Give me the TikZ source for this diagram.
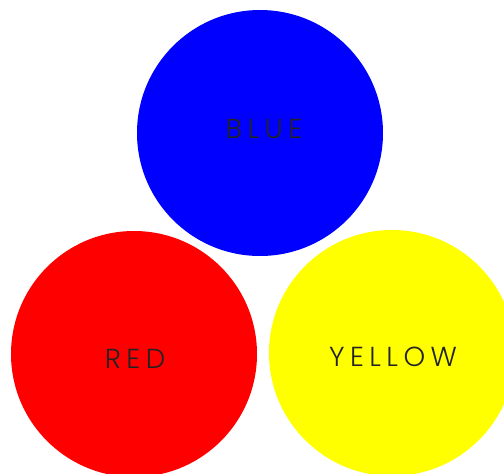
\documentclass[tikz,border=0pt]{standalone}
\usepackage{fontspec}
\newfontfamily\labelfont[LetterSpace=20]{Poppins Light}
\definecolor{cblue}{RGB}{0,0,255}
\definecolor{cred}{RGB}{255,0,0}
\definecolor{cyellow}{RGB}{255,255,0}
\definecolor{ctext}{RGB}{35,35,35}
\begin{document}
\begin{tikzpicture}[x=1pt,y=-1pt,
  disc/.style={circle,minimum size=246pt,inner sep=0pt},
  lab/.style={text=ctext,font=\labelfont\fontsize{27.5}{27.5}\selectfont}]
\useasboundingbox (0,0) rectangle (504,474);
\clip (0,0) rectangle (504,474);
\node[disc,fill=cblue] (blue) at (260,133) {};
\node[disc,fill=cred] (red) at (134,354) {};
\node[disc,fill=cyellow] (yellow) at (392,353) {};
\node[lab] (tblue) at (264,129) {BLUE};
\node[lab] (tred) at (135,359) {RED};
\node[lab] (tyellow) at (393,357) {YELLOW};
\end{tikzpicture}
\end{document}
